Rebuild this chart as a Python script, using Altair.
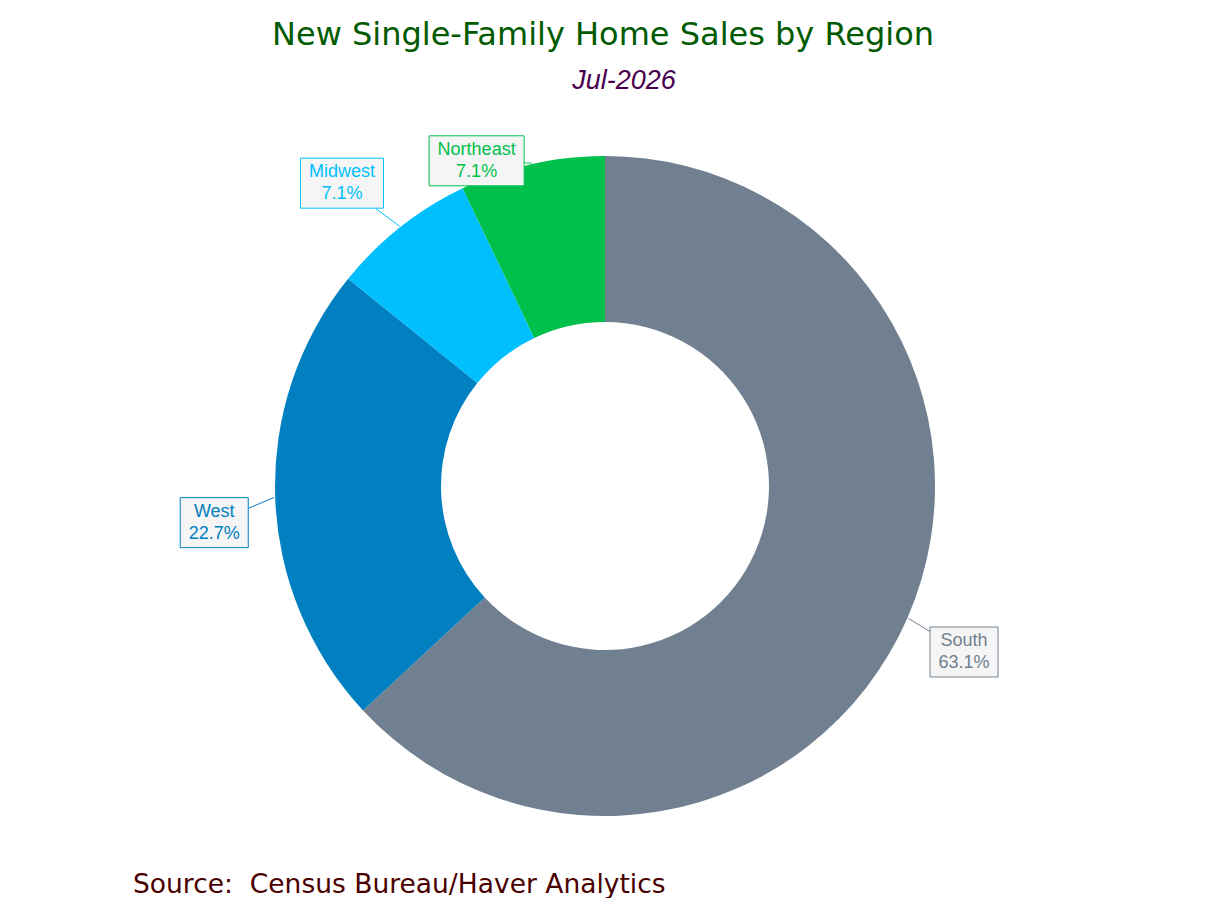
import math

import altair as alt
import pandas as pd

regions = ["South", "West", "Midwest", "Northeast"]
shares = [63.1, 22.7, 7.1, 7.1]
colors = ["#708090", "#0080C0", "#00BFFF", "#00C04C"]

title = "New Single-Family Home Sales by Region"
subtitle = "Jul-2026"
source = "Source:\u00a0 Census Bureau/Haver Analytics"

W, H = 1192, 890
CX, CY = 597, 478
R_OUT, R_IN = 330, 164
R_LABEL = 395
LABEL_SIZE = 18
LINE_H = 22
# hand nudges so the boxes sit where the original puts them
nudge = {"South": (-3, 8), "West": (4, 23), "Midwest": (-18, 7), "Northeast": (-41, 60)}

# rough Arial advance widths (em) for sizing the label boxes
ARIAL = {"S": .667, "o": .556, "u": .556, "t": .278, "h": .556, "W": .944, "e": .556,
         "s": .5, "M": .833, "i": .222, "d": .556, "w": .722, "N": .722, "r": .333,
         "a": .556, ".": .278, "%": .889}


def text_width(s: str) -> float:
    return sum(ARIAL.get(c, .556) for c in s) * LABEL_SIZE


df = pd.DataFrame({"region": regions, "share": shares})
df["order"] = range(len(df))
df["pct"] = df["share"].map("{:.1f}%".format)
df["label"] = df["region"] + "\n" + df["pct"]

end = df["share"].cumsum()
mid = (end - df["share"] / 2) / df["share"].sum() * 2 * math.pi
sin, cos = mid.map(math.sin), mid.map(math.cos)

df["ax"] = CX + (R_OUT + 1) * sin
df["ay"] = CY - (R_OUT + 1) * cos
df["lx"] = CX + R_LABEL * sin + df["region"].map(lambda r: nudge.get(r, (0, 0))[0])
df["ly"] = CY - R_LABEL * cos + df["region"].map(lambda r: nudge.get(r, (0, 0))[1])
bw = df.apply(lambda r: max(text_width(r["region"]), text_width(r["pct"])) + 17, axis=1)
df["bx1"] = df["lx"] - bw / 2
df["bx2"] = df["lx"] + bw / 2
df["by1"] = df["ly"] - 25
df["by2"] = df["ly"] + 25

region_scale = alt.Scale(domain=regions, range=colors)
px = dict(scale=None, axis=None)

base = alt.Chart(df)

arcs = base.mark_arc(outerRadius=R_OUT, innerRadius=R_IN).encode(
    theta=alt.Theta("share:Q", stack=True),
    color=alt.Color("region:N", scale=region_scale, legend=None),
    order=alt.Order("order:Q"),
    x=alt.value(CX),
    y=alt.value(CY),
)

leaders = base.mark_rule(strokeWidth=1).encode(
    x=alt.X("ax:Q", **px),
    y=alt.Y("ay:Q", **px),
    x2="lx:Q",
    y2="ly:Q",
    color=alt.Color("region:N", scale=region_scale, legend=None),
)

boxes = base.mark_rect(fill="#f5f5f5", strokeWidth=1).encode(
    x=alt.X("bx1:Q", **px),
    x2="bx2:Q",
    y=alt.Y("by1:Q", **px),
    y2="by2:Q",
    stroke=alt.Stroke("region:N", scale=region_scale, legend=None),
)

labels = base.mark_text(
    font="Liberation Sans", fontSize=LABEL_SIZE, lineBreak="\n", lineHeight=LINE_H,
    align="center", baseline="middle", dy=-LINE_H / 2,
).encode(
    x=alt.X("lx:Q", **px),
    y=alt.Y("ly:Q", **px),
    text="label:N",
    color=alt.Color("region:N", scale=region_scale, legend=None),
)


def caption(text, x, y, **style):
    return alt.Chart(pd.DataFrame({"t": [text]})).mark_text(**style).encode(
        text="t:N", x=alt.value(x), y=alt.value(y)
    )


head = caption(title, 595, 27, font="DejaVu Sans", fontSize=32,
               color="#005A00", align="center", baseline="middle")
sub = caption(subtitle, 616, 73, font="Liberation Sans", fontSize=27, fontStyle="italic",
              color="#4B0050", align="center", baseline="middle")
src = caption(source, 125, 877, font="DejaVu Sans", fontSize=26.5,
              color="#4B0000", align="left", baseline="middle")

chart = alt.layer(arcs, leaders, boxes, labels, head, sub, src).properties(
    width=W, height=H, padding=0, autosize="none"
).configure_view(stroke=None)

chart.save("out.html", embed_options={"renderer": "svg", "actions": False})
